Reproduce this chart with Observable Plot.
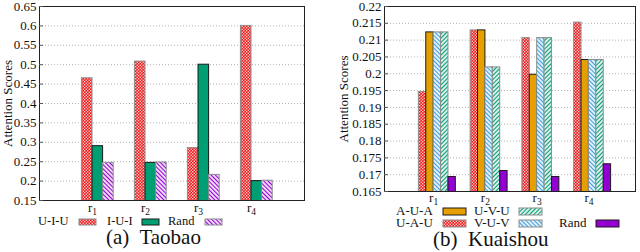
<!DOCTYPE html>
<html><head><meta charset="utf-8">
<script src="https://cdn.jsdelivr.net/npm/d3@7"></script>
<script src="https://cdn.jsdelivr.net/npm/@observablehq/plot@0.6"></script>
<style>
body{margin:0;background:#fff;}
#fig{position:relative;width:640px;height:252px;overflow:hidden;font-family:"Liberation Serif","DejaVu Serif",serif;color:#111}
.panel{position:absolute;top:0}
.lt{position:absolute;line-height:0.8;white-space:pre}
.sw{position:absolute}
.cap{position:absolute;line-height:0.8;white-space:pre;font-size:21px}
</style>
</head><body>
<svg width="0" height="0" style="position:absolute">
<defs>
<pattern id="chkRed" width="3" height="3" patternUnits="userSpaceOnUse">
<rect width="3" height="3" fill="#f01818"/>
<rect x="0.15" y="0.15" width="1.2" height="1.2" fill="#fff"/>
<rect x="1.65" y="1.65" width="1.2" height="1.2" fill="#fff"/>
</pattern>
<pattern id="hatchPurple" width="3" height="3" patternUnits="userSpaceOnUse" patternTransform="rotate(-45)">
<rect width="3" height="3" fill="#fff"/>
<line x1="1.5" y1="0" x2="1.5" y2="3" stroke="#9400d3" stroke-width="1.3"/>
</pattern>
<pattern id="hatchBlue" width="3" height="3" patternUnits="userSpaceOnUse" patternTransform="rotate(-45)">
<rect width="3" height="3" fill="#fff"/>
<line x1="1.5" y1="0" x2="1.5" y2="3" stroke="#3aa0dc" stroke-width="1.3"/>
</pattern>
<pattern id="hatchTeal" width="3" height="3" patternUnits="userSpaceOnUse" patternTransform="rotate(45)">
<rect width="3" height="3" fill="#fff"/>
<line x1="1.5" y1="0" x2="1.5" y2="3" stroke="#009e73" stroke-width="1.3"/>
</pattern>
</defs>
</svg>
<div id="fig"></div>
<script>
// ---- data ----
const groups = ["r1", "r2", "r3", "r4"];
const groupPositions = [0, 1, 2, 3];

const taobaoSeries = ["U-I-U", "I-U-I", "Rand"];
const taobaoUIU = [0.465, 0.508, 0.285, 0.600];
const taobaoIUI = [0.290, 0.247, 0.500, 0.200];
const taobaoRand = [0.247, 0.248, 0.216, 0.201];
const taobaoYTicks = [0.15, 0.2, 0.25, 0.3, 0.35, 0.4, 0.45, 0.5, 0.55, 0.6, 0.65];

const kuaishouSeries = ["U-A-U", "A-U-A", "V-U-V", "U-V-U", "Rand"];
const kuaishouUAU = [0.1946, 0.2129, 0.2106, 0.2152];
const kuaishouAUA = [0.2123, 0.2129, 0.1997, 0.2041];
const kuaishouVUV = [0.2123, 0.2019, 0.2106, 0.2041];
const kuaishouUVU = [0.2123, 0.2019, 0.2106, 0.2041];
const kuaishouRand = [0.1693, 0.1711, 0.1693, 0.1731];
const kuaishouYTicks = [0.165, 0.17, 0.175, 0.18, 0.185, 0.19, 0.195, 0.2, 0.205, 0.21, 0.215, 0.22];

const yLabel = "Attention Scores";

// ---- styles ----
const taobaoStyles = [
  {fill: "url(#chkRed)", stroke: "#8c8c8c"},
  {fill: "#009e73", stroke: "#1a1a1a"},
  {fill: "url(#hatchPurple)", stroke: "#8c8c8c"}
];
const kuaishouStyles = [
  {fill: "url(#chkRed)", stroke: "#8c8c8c"},
  {fill: "#e69f00", stroke: "#1a1a1a"},
  {fill: "url(#hatchBlue)", stroke: "#8c8c8c"},
  {fill: "url(#hatchTeal)", stroke: "#8c8c8c"},
  {fill: "#9400d3", stroke: "#1a1a1a"}
];

const FONT = '"Liberation Serif","DejaVu Serif",serif';

function makePanel(cfg) {
  const N = cfg.values.length + 1; // gnuplot cluster with an empty first slot
  const w = 1 / (N + 1);
  const bars = cfg.values.map((vals, j) => {
    const slot = j + 1;
    const rows = vals.map((v, i) => ({pos: groupPositions[i], value: v}));
    return Plot.rect(rows, {
      x1: d => d.pos + (slot - N / 2) * w,
      x2: d => d.pos + (slot - N / 2 + 1) * w,
      y1: 0, y2: "value",
      fill: cfg.styles[j].fill, stroke: cfg.styles[j].stroke, strokeWidth: 1,
      clip: true
    });
  });
  const svg = Plot.plot({
    width: cfg.width, height: cfg.height,
    marginLeft: cfg.ml, marginRight: cfg.mr, marginTop: cfg.mt, marginBottom: cfg.mb,
    x: {domain: cfg.xDomain},
    y: {domain: cfg.yDomain},
    style: {fontFamily: FONT, fontSize: "13px", color: "#111", background: "transparent", overflow: "visible"},
    marks: [
      Plot.gridY(cfg.yTicks, {stroke: "#b0b0b0", strokeOpacity: 1, strokeDasharray: "1,2"}),
      ...bars,
      Plot.frame({stroke: "#222", strokeWidth: 1}),
      Plot.axisY(cfg.yTicks, {tickSize: -4, tickPadding: 7, stroke: "#555", tickFormat: d => String(d),
        label: yLabel, labelAnchor: "center", labelOffset: cfg.labelOffset, labelArrow: "none"}),
      Plot.axisX(groupPositions, {tickSize: 0, tickPadding: cfg.xPad, tickFormat: i => groups[i], label: null})
    ]
  });
  svg.setAttribute("font-family", FONT);
  // subscripts for r1..r4
  svg.querySelectorAll('[aria-label="x-axis tick label"] text').forEach(t => {
    const s = t.textContent;
    t.textContent = s.slice(0, 1);
    const ts = document.createElementNS("http://www.w3.org/2000/svg", "tspan");
    ts.setAttribute("dy", "3");
    ts.setAttribute("font-size", "9.5");
    ts.textContent = s.slice(1);
    t.appendChild(ts);
  });
  return svg;
}

const fig = document.getElementById("fig");

function addPanel(svg, left) {
  const d = document.createElement("div");
  d.className = "panel";
  d.style.left = left + "px";
  d.appendChild(svg);
  fig.appendChild(d);
}

addPanel(makePanel({
  width: 320, height: 216, ml: 39, mr: 16, mt: 6, mb: 16,
  xDomain: [-1, 4], yDomain: [0.15, 0.65], yTicks: taobaoYTicks,
  values: [taobaoUIU, taobaoIUI, taobaoRand], styles: taobaoStyles,
  labelOffset: 37, xPad: 2
}), 0);

addPanel(makePanel({
  width: 320, height: 206, ml: 64, mr: 5, mt: 6, mb: 15,
  xDomain: [-0.95, 3.9], yDomain: [0.165, 0.22], yTicks: kuaishouYTicks,
  values: [kuaishouUAU, kuaishouAUA, kuaishouVUV, kuaishouUVU, kuaishouRand], styles: kuaishouStyles,
  labelOffset: 46, xPad: 1
}), 320);

// ---- legends ----
function legendText(txt, x, y, size) {
  const e = document.createElement("div");
  e.className = "lt";
  e.style.left = x + "px"; e.style.top = y + "px"; e.style.fontSize = size + "px";
  e.textContent = txt;
  fig.appendChild(e);
}
function swatch(style, x, y, w, h) {
  const ns = "http://www.w3.org/2000/svg";
  const s = document.createElementNS(ns, "svg");
  s.setAttribute("class", "sw");
  s.setAttribute("width", w + 2); s.setAttribute("height", h + 2);
  s.style.left = (x - 1) + "px"; s.style.top = (y - 1) + "px";
  const r = document.createElementNS(ns, "rect");
  r.setAttribute("x", 1); r.setAttribute("y", 1);
  r.setAttribute("width", w); r.setAttribute("height", h);
  r.setAttribute("fill", style.fill); r.setAttribute("stroke", style.stroke);
  s.appendChild(r);
  fig.appendChild(s);
}

// Taobao legend (one row)
const tbX = [38, 107, 168], tbSw = [79, 142, 205];
taobaoSeries.forEach((s, j) => {
  legendText(s, tbX[j], 216.3, 12.5);
  swatch(taobaoStyles[j], tbSw[j], 219, 17, 6);
});

// Kuaishou legend (two rows)
const ksPos = [
  {tx: 396, sx: 443, row: 1},  // U-A-U
  {tx: 396, sx: 443, row: 0},  // A-U-A
  {tx: 474, sx: 519, row: 1},  // V-U-V
  {tx: 474, sx: 519, row: 0},  // U-V-U
  {tx: 559, sx: 596, row: 1}   // Rand
];
kuaishouSeries.forEach((s, j) => {
  const p = ksPos[j];
  legendText(s, p.tx, 206.4 + p.row * 12, 13);
  swatch(kuaishouStyles[j], p.sx, 208 + p.row * 12, 23, 7);
});

// captions
function caption(txt, x, y) {
  const e = document.createElement("div");
  e.className = "cap";
  e.style.left = x + "px"; e.style.top = y + "px";
  e.textContent = txt;
  fig.appendChild(e);
}
caption("(a)  Taobao", 106, 229.2);
caption("(b)  Kuaishou", 433, 230.8);
</script>
</body></html>
